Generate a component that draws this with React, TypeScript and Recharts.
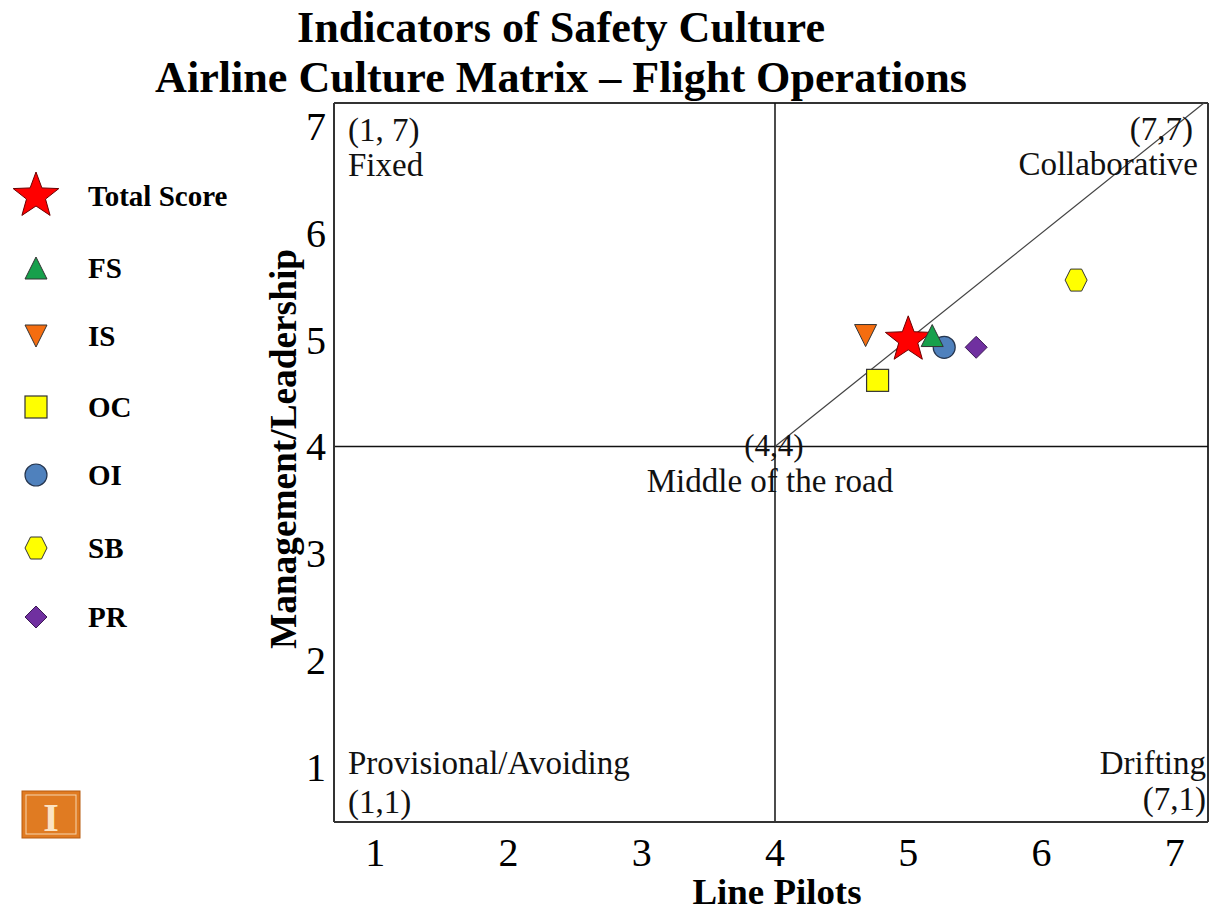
import React from "react";
import {
  ScatterChart,
  Scatter,
  XAxis,
  YAxis,
  ReferenceLine,
} from "recharts";

// Culture matrix scores (Line Pilots = x, Management/Leadership = y)
const totalScore = [{ x: 5.0, y: 5.0 }];
const fsScore = [{ x: 5.18, y: 5.04 }];
const isScore = [{ x: 4.68, y: 5.04 }];
const ocScore = [{ x: 4.77, y: 4.62 }];
const oiScore = [{ x: 5.27, y: 4.93 }];
const sbScore = [{ x: 6.26, y: 5.56 }];
const prScore = [{ x: 5.51, y: 4.93 }];

const axisTicks = [1, 2, 3, 4, 5, 6, 7];
const xDomain = [0.69, 7.25];
const yDomain = [0.48, 7.22];

const legendItems = [
  { key: "star", label: "Total Score" },
  { key: "up", label: "FS" },
  { key: "down", label: "IS" },
  { key: "square", label: "OC" },
  { key: "circle", label: "OI" },
  { key: "hex", label: "SB" },
  { key: "diamond", label: "PR" },
];

const SERIF = '"Liberation Serif", "Times New Roman", serif';

function Marker({ kind, cx, cy }: { kind: string; cx: number; cy: number }) {
  const stroke = "#333";
  if (kind === "star") {
    const pts: string[] = [];
    for (let i = 0; i < 10; i++) {
      const r = i % 2 === 0 ? 24 : 10;
      const a = -Math.PI / 2 + (i * Math.PI) / 5;
      pts.push(`${cx + r * Math.cos(a)},${cy + r * Math.sin(a)}`);
    }
    return <polygon points={pts.join(" ")} fill="#ff0000" stroke="#6b0000" strokeWidth={1} />;
  }
  if (kind === "up") {
    return (
      <polygon
        points={`${cx},${cy - 11} ${cx - 11},${cy + 11} ${cx + 11},${cy + 11}`}
        fill="#17a04c"
        stroke={stroke}
        strokeWidth={1}
      />
    );
  }
  if (kind === "down") {
    return (
      <polygon
        points={`${cx - 11},${cy - 11} ${cx + 11},${cy - 11} ${cx},${cy + 11}`}
        fill="#f46d10"
        stroke={stroke}
        strokeWidth={1}
      />
    );
  }
  if (kind === "square") {
    return <rect x={cx - 11} y={cy - 11} width={22} height={22} fill="#ffff00" stroke={stroke} strokeWidth={1.2} />;
  }
  if (kind === "circle") {
    return <circle cx={cx} cy={cy} r={11} fill="#4f81bd" stroke="#26364f" strokeWidth={1.2} />;
  }
  if (kind === "hex") {
    return (
      <polygon
        points={`${cx - 11},${cy} ${cx - 5.5},${cy - 11} ${cx + 5.5},${cy - 11} ${cx + 11},${cy} ${cx + 5.5},${cy + 11} ${cx - 5.5},${cy + 11}`}
        fill="#ffff00"
        stroke={stroke}
        strokeWidth={1}
      />
    );
  }
  // diamond
  return (
    <polygon
      points={`${cx},${cy - 11} ${cx + 11},${cy} ${cx},${cy + 11} ${cx - 11},${cy}`}
      fill="#7030a0"
      stroke="#3b1a55"
      strokeWidth={1}
    />
  );
}

const shapeFor = (kind: string) => (props: any) => <Marker kind={kind} cx={props.cx} cy={props.cy} />;

const XTick = ({ x, y, payload }: any) => (
  <text x={x} y={y + 36} textAnchor="middle" fontSize={40} fontFamily={SERIF} fill="#000">
    {payload.value}
  </text>
);

const YTick = ({ x, y, payload }: any) => (
  <text x={x} y={y + 14} textAnchor="end" fontSize={40} fontFamily={SERIF} fill="#000">
    {payload.value}
  </text>
);

export default function App() {
  const legendRows = [196, 268, 336, 407, 475, 548, 617];
  return (
    <div style={{ position: "absolute", left: 0, top: 0, width: 1209, height: 913, background: "#fff" }}>
      <ScatterChart width={1209} height={913} margin={{ top: 103, right: 1, bottom: 0, left: 0 }}>
        <XAxis
          type="number"
          dataKey="x"
          domain={xDomain}
          ticks={axisTicks}
          allowDataOverflow
          height={91}
          tickLine={false}
          axisLine={{ stroke: "#333", strokeWidth: 2 }}
          tick={<XTick />}
        />
        <YAxis
          type="number"
          dataKey="y"
          domain={yDomain}
          ticks={axisTicks}
          allowDataOverflow
          width={334}
          tickLine={false}
          axisLine={{ stroke: "#333", strokeWidth: 2 }}
          tick={<YTick />}
        />
        <ReferenceLine y={yDomain[1]} stroke="#333" strokeWidth={2} />
        <ReferenceLine x={xDomain[1]} stroke="#333" strokeWidth={2} />
        <ReferenceLine x={4} stroke="#111" strokeWidth={1.5} />
        <ReferenceLine y={4} stroke="#111" strokeWidth={1.5} />
        <Scatter data={isScore} shape={shapeFor("down")} isAnimationActive={false} />
        <Scatter data={ocScore} shape={shapeFor("square")} isAnimationActive={false} />
        <Scatter data={oiScore} shape={shapeFor("circle")} isAnimationActive={false} />
        <Scatter data={prScore} shape={shapeFor("diamond")} isAnimationActive={false} />
        <Scatter data={sbScore} shape={shapeFor("hex")} isAnimationActive={false} />
        <Scatter data={totalScore} shape={shapeFor("star")} isAnimationActive={false} />
        <Scatter data={fsScore} shape={shapeFor("up")} isAnimationActive={false} />
        <ReferenceLine
          segment={[
            { x: 4, y: 4 },
            { x: 7.22, y: 7.22 },
          ]}
          stroke="#444"
          strokeWidth={1.2}
        />
      </ScatterChart>

      <svg
        width={1209}
        height={913}
        style={{ position: "absolute", left: 0, top: 0, pointerEvents: "none" }}
        fontFamily={SERIF}
      >
        {/* title */}
        <text x={561} y={42} textAnchor="middle" fontSize={45} fontWeight="bold" textLength={528} lengthAdjust="spacingAndGlyphs">
          Indicators of Safety Culture
        </text>
        <text x={561} y={92} textAnchor="middle" fontSize={45} fontWeight="bold" textLength={812} lengthAdjust="spacingAndGlyphs">
          Airline Culture Matrix – Flight Operations
        </text>

        {/* axis titles */}
        <text x={777} y={904} textAnchor="middle" fontSize={35} fontWeight="bold" textLength={169} lengthAdjust="spacingAndGlyphs">
          Line Pilots
        </text>
        <text
          x={0}
          y={0}
          transform="translate(296,449) rotate(-90)"
          textAnchor="middle"
          fontSize={37}
          fontWeight="bold"
          textLength={400}
          lengthAdjust="spacingAndGlyphs"
        >
          Management/Leadership
        </text>

        {/* quadrant annotations */}
        <g fontSize={33} fill="#111">
          <text x={348} y={141}>(1, 7)</text>
          <text x={348} y={176}>Fixed</text>
          <text x={1193} y={140} textAnchor="end">(7,7)</text>
          <text x={1198} y={175} textAnchor="end">Collaborative</text>
          <text x={774} y={456} textAnchor="middle" fontSize={31}>(4,4)</text>
          <text x={770} y={492} textAnchor="middle">Middle of the road</text>
          <text x={348} y={774}>Provisional/Avoiding</text>
          <text x={348} y={813}>(1,1)</text>
          <text x={1206} y={774} textAnchor="end">Drifting</text>
          <text x={1206} y={810} textAnchor="end">(7,1)</text>
        </g>

        {/* legend */}
        {legendItems.map((item, i) => (
          <g key={item.key}>
            <Marker kind={item.key} cx={36} cy={legendRows[i]} />
            <text x={88} y={legendRows[i] + 10} fontSize={29} fontWeight="bold">
              {item.label}
            </text>
          </g>
        ))}

        {/* logo */}
        <rect x={22} y={791} width={58} height={47} fill="#e07b22" stroke="#b85c10" strokeWidth={1} />
        <rect x={26} y={795} width={50} height={39} fill="none" stroke="#f6d6ae" strokeWidth={1} />
        <text x={51} y={831} textAnchor="middle" fontSize={40} fontWeight="bold" fill="#fbe3c4">
          I
        </text>
      </svg>
    </div>
  );
}
